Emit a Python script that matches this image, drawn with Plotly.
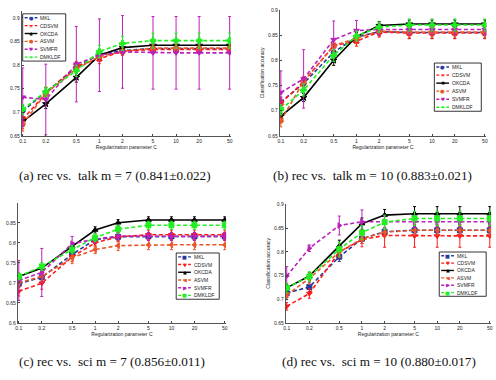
import plotly.graph_objects as go
import numpy as np

W, H = 496, 380

C_vals = [0.1, 0.2, 0.5, 1, 2, 5, 10, 20, 50]
C_labels = ['0.1', '0.2', '0.5', '1', '2', '5', '10', '20', '50']
methods = ['MKL', 'CDSVM', 'OKCDA', 'ASVM', 'SVMFR', 'DMKLDF']

# (a) rec vs. talk m = 7
a_MKL = [0.703, 0.742, 0.795, 0.823, 0.831, 0.835, 0.835, 0.835, 0.835]
a_CDSVM = [0.685, 0.740, 0.798, 0.813, 0.829, 0.833, 0.833, 0.833, 0.833]
a_OKCDA = [0.680, 0.718, 0.774, 0.821, 0.837, 0.842, 0.842, 0.842, 0.842]
a_ASVM = [0.675, 0.740, 0.792, 0.818, 0.829, 0.836, 0.836, 0.836, 0.836]
a_SVMFR = [0.732, 0.727, 0.802, 0.821, 0.828, 0.826, 0.826, 0.826, 0.826]
a_DMKLDF = [0.706, 0.744, 0.788, 0.829, 0.846, 0.852, 0.852, 0.852, 0.852]
a_MKL_err = [0.012, 0.010, 0.010, 0.010, 0.008, 0.008, 0.008, 0.008, 0.008]
a_CDSVM_err = [0.020, 0.012, 0.010, 0.010, 0.008, 0.008, 0.008, 0.008, 0.008]
a_OKCDA_err = [0.010, 0.010, 0.010, 0.008, 0.006, 0.006, 0.006, 0.006, 0.006]
a_ASVM_err = [0.015, 0.012, 0.010, 0.010, 0.008, 0.008, 0.008, 0.008, 0.008]
a_SVMFR_err = [0.062, 0.075, 0.080, 0.077, 0.077, 0.077, 0.077, 0.077, 0.077]
a_DMKLDF_err = [0.010, 0.010, 0.012, 0.013, 0.015, 0.016, 0.016, 0.016, 0.016]

# (b) rec vs. talk m = 10
b_MKL = [0.717, 0.754, 0.816, 0.846, 0.857, 0.855, 0.855, 0.855, 0.855]
b_CDSVM = [0.715, 0.757, 0.829, 0.838, 0.856, 0.854, 0.854, 0.854, 0.854]
b_OKCDA = [0.689, 0.726, 0.800, 0.847, 0.869, 0.872, 0.872, 0.872, 0.872]
b_ASVM = [0.680, 0.758, 0.829, 0.843, 0.858, 0.856, 0.856, 0.856, 0.856]
b_SVMFR = [0.736, 0.763, 0.841, 0.859, 0.861, 0.861, 0.861, 0.861, 0.861]
b_DMKLDF = [0.702, 0.741, 0.810, 0.848, 0.866, 0.870, 0.870, 0.870, 0.870]
b_MKL_err = [0.010, 0.010, 0.010, 0.008, 0.008, 0.012, 0.012, 0.012, 0.012]
b_CDSVM_err = [0.010, 0.010, 0.010, 0.010, 0.010, 0.011, 0.011, 0.011, 0.011]
b_OKCDA_err = [0.008, 0.008, 0.010, 0.008, 0.008, 0.008, 0.008, 0.008, 0.008]
b_ASVM_err = [0.012, 0.010, 0.012, 0.010, 0.010, 0.010, 0.010, 0.010, 0.010]
b_SVMFR_err = [0.043, 0.058, 0.037, 0.020, 0.012, 0.010, 0.010, 0.010, 0.010]
b_DMKLDF_err = [0.010, 0.012, 0.012, 0.010, 0.010, 0.012, 0.012, 0.012, 0.012]

# (c) rec vs. sci m = 7
c_MKL = [0.698, 0.714, 0.771, 0.808, 0.815, 0.816, 0.816, 0.816, 0.816]
c_CDSVM = [0.679, 0.699, 0.765, 0.800, 0.815, 0.820, 0.820, 0.820, 0.820]
c_OKCDA = [0.716, 0.737, 0.791, 0.832, 0.850, 0.857, 0.857, 0.857, 0.857]
c_ASVM = [0.700, 0.716, 0.763, 0.783, 0.793, 0.795, 0.795, 0.795, 0.795]
c_SVMFR = [0.706, 0.726, 0.798, 0.809, 0.817, 0.816, 0.816, 0.816, 0.816]
c_DMKLDF = [0.716, 0.741, 0.783, 0.813, 0.834, 0.844, 0.844, 0.844, 0.844]
c_MKL_err = [0.010, 0.010, 0.010, 0.010, 0.010, 0.010, 0.010, 0.010, 0.010]
c_CDSVM_err = [0.012, 0.015, 0.012, 0.010, 0.012, 0.012, 0.012, 0.012, 0.012]
c_OKCDA_err = [0.008, 0.008, 0.008, 0.008, 0.008, 0.008, 0.008, 0.008, 0.008]
c_ASVM_err = [0.010, 0.012, 0.015, 0.010, 0.012, 0.012, 0.012, 0.012, 0.012]
c_SVMFR_err = [0.050, 0.060, 0.018, 0.010, 0.010, 0.010, 0.010, 0.010, 0.010]
c_DMKLDF_err = [0.008, 0.010, 0.010, 0.010, 0.010, 0.010, 0.010, 0.010, 0.010]

# (d) rec vs. sci m = 10
d_MKL = [0.713, 0.726, 0.790, 0.828, 0.843, 0.846, 0.846, 0.846, 0.846]
d_CDSVM = [0.685, 0.712, 0.800, 0.826, 0.835, 0.834, 0.834, 0.834, 0.834]
d_OKCDA = [0.724, 0.749, 0.813, 0.860, 0.878, 0.881, 0.881, 0.881, 0.881]
d_ASVM = [0.709, 0.744, 0.800, 0.828, 0.842, 0.846, 0.846, 0.846, 0.846]
d_SVMFR = [0.749, 0.808, 0.856, 0.864, 0.864, 0.864, 0.864, 0.864, 0.864]
d_DMKLDF = [0.724, 0.748, 0.806, 0.841, 0.863, 0.871, 0.871, 0.871, 0.871]
d_MKL_err = [0.010, 0.010, 0.010, 0.010, 0.008, 0.008, 0.008, 0.008, 0.008]
d_CDSVM_err = [0.008, 0.010, 0.012, 0.015, 0.025, 0.024, 0.024, 0.024, 0.024]
d_OKCDA_err = [0.008, 0.008, 0.012, 0.012, 0.012, 0.015, 0.015, 0.015, 0.015]
d_ASVM_err = [0.010, 0.012, 0.012, 0.010, 0.010, 0.010, 0.010, 0.010, 0.010]
d_SVMFR_err = [0.020, 0.007, 0.020, 0.025, 0.012, 0.012, 0.012, 0.012, 0.012]
d_DMKLDF_err = [0.010, 0.010, 0.015, 0.015, 0.015, 0.015, 0.015, 0.015, 0.015]

captions = ['(a) rec vs.  talk m = 7 (0.841±0.022)',
            '(b) rec vs.  talk m = 10 (0.883±0.021)',
            '(c) rec vs.  sci m = 7 (0.856±0.011)',
            '(d) rec vs.  sci m = 10 (0.880±0.017)']

colors = {'MKL': '#27399c', 'CDSVM': '#ff1a1a', 'OKCDA': '#000000',
          'ASVM': '#e8582a', 'SVMFR': '#bb22bb', 'DMKLDF': '#22ee22'}
dashes = {'MKL': '4px,2.5px', 'CDSVM': '4px,2.5px', 'OKCDA': 'solid',
          'ASVM': '4px,2.5px', 'SVMFR': '4px,2.5px', 'DMKLDF': '4px,2.5px'}
sym_top = {'MKL': 'circle', 'CDSVM': 'x', 'OKCDA': 'star', 'ASVM': 'circle',
           'SVMFR': 'triangle-down', 'DMKLDF': 'cross'}
sym_bot = {'MKL': 'square', 'CDSVM': 'triangle-down', 'OKCDA': 'triangle-up',
           'ASVM': 'triangle-left', 'SVMFR': 'triangle-right', 'DMKLDF': 'square'}
glyph_top = {'MKL': '●', 'CDSVM': '×', 'OKCDA': '✱', 'ASVM': '●',
             'SVMFR': '▼', 'DMKLDF': '+'}
glyph_bot = {'MKL': '■', 'CDSVM': '▼', 'OKCDA': '▲', 'ASVM': '◀',
             'SVMFR': '▶', 'DMKLDF': '■'}

panels = [
    dict(vals=[a_MKL, a_CDSVM, a_OKCDA, a_ASVM, a_SVMFR, a_DMKLDF],
         errs=[a_MKL_err, a_CDSVM_err, a_OKCDA_err, a_ASVM_err, a_SVMFR_err, a_DMKLDF_err],
         box=(13, 227, 8, 135), yr=(0.65, 0.915), ticks=[0.65, 0.7, 0.75, 0.8, 0.85, 0.9],
         syms=sym_top, glyphs=glyph_top, leg=(14, 58, 11, 59), ytitle=False,
         cap=(8, 175)),
    dict(vals=[b_MKL, b_CDSVM, b_OKCDA, b_ASVM, b_SVMFR, b_DMKLDF],
         errs=[b_MKL_err, b_CDSVM_err, b_OKCDA_err, b_ASVM_err, b_SVMFR_err, b_DMKLDF_err],
         box=(277, 488, 7, 135), yr=(0.65, 0.9), ticks=[0.65, 0.7, 0.75, 0.8, 0.85, 0.9],
         syms=sym_top, glyphs=glyph_top, leg=(435, 483, 61, 110), ytitle=True,
         cap=(268, 175)),
    dict(vals=[c_MKL, c_CDSVM, c_OKCDA, c_ASVM, c_SVMFR, c_DMKLDF],
         errs=[c_MKL_err, c_CDSVM_err, c_OKCDA_err, c_ASVM_err, c_SVMFR_err, c_DMKLDF_err],
         box=(9, 222, 203, 325), yr=(0.6, 0.9), ticks=[0.6, 0.65, 0.7, 0.75, 0.8, 0.85],
         syms=sym_bot, glyphs=glyph_bot, leg=(171, 215, 254, 301), ytitle=False,
         cap=(8, 364)),
    dict(vals=[d_MKL, d_CDSVM, d_OKCDA, d_ASVM, d_SVMFR, d_DMKLDF],
         errs=[d_MKL_err, d_CDSVM_err, d_OKCDA_err, d_ASVM_err, d_SVMFR_err, d_DMKLDF_err],
         box=(283, 493, 204, 325), yr=(0.65, 0.902), ticks=[0.65, 0.7, 0.75, 0.8, 0.85, 0.9],
         syms=sym_bot, glyphs=glyph_bot, leg=(440, 488, 253, 298), ytitle=True,
         cap=(277, 364)),
]

def px(x):
    return x / W

def py(y):
    return 1 - y / H

fig = go.Figure()
shapes, annotations = [], []
tickfont = dict(family='Liberation Sans, Arial', size=5, color='#222')
layout_axes = {}

for i, p in enumerate(panels):
    n = '' if i == 0 else str(i + 1)
    xa, ya = 'x' + n, 'y' + n
    for m, v, e in zip(methods, p['vals'], p['errs']):
        col = colors[m]
        fig.add_trace(go.Scatter(
            x=C_vals, y=v, xaxis=xa, yaxis=ya, mode='lines+markers', name=m,
            showlegend=False,
            line=dict(color=col, width=1.6, dash=dashes[m]),
            marker=dict(symbol=p['syms'][m], size=5, color=col,
                        line=dict(color=col, width=1)),
            error_y=dict(type='data', array=e, visible=True, color=col,
                         thickness=1, width=1.5)))
    x0, x1, y0, y1 = p['box']
    layout_axes['xaxis' + n] = dict(
        domain=[px(x0), px(x1)], anchor=ya, type='log',
        range=[np.log10(0.097), np.log10(52)],
        tickvals=C_vals, ticktext=C_labels, ticks='inside', ticklen=2,
        tickcolor='#444', showline=True, linecolor='#555', linewidth=1,
        showgrid=False, zeroline=False, tickfont=tickfont,
        title=dict(text='Regularization parameter C', font=tickfont, standoff=2))
    layout_axes['yaxis' + n] = dict(
        domain=[py(y1), py(y0)], anchor=xa, range=list(p['yr']),
        tickvals=p['ticks'], ticktext=[('%g' % t) for t in p['ticks']],
        ticks='inside', ticklen=2, tickcolor='#444', showline=True,
        linecolor='#555', linewidth=1, showgrid=False, zeroline=False,
        tickfont=tickfont,
        title=dict(text='Classification accuracy' if p['ytitle'] else '',
                   font=tickfont, standoff=3))
    # legend box
    lx0, lx1, ly0, ly1 = p['leg']
    shapes.append(dict(type='rect', xref='paper', yref='paper',
                       x0=px(lx0), x1=px(lx1), y0=py(ly1), y1=py(ly0),
                       line=dict(color='#000', width=0.8), fillcolor='white', layer='above'))
    step = (ly1 - ly0) / 6.0
    for k, m in enumerate(methods):
        yy = ly0 + step * (k + 0.5)
        col = colors[m]
        shapes.append(dict(type='line', xref='paper', yref='paper',
                           x0=px(lx0 + 2), x1=px(lx0 + 15), y0=py(yy), y1=py(yy),
                           line=dict(color=col, width=1.4,
                                     dash='solid' if m == 'OKCDA' else '3px,2px'),
                           layer='above'))
        annotations.append(dict(xref='paper', yref='paper', x=px(lx0 + 8.5), y=py(yy),
                                text=p['glyphs'][m], showarrow=False,
                                xanchor='center', yanchor='middle',
                                font=dict(family='DejaVu Sans', size=5, color=col)))
        annotations.append(dict(xref='paper', yref='paper', x=px(lx0 + 16), y=py(yy),
                                text=m, showarrow=False, xanchor='left', yanchor='middle',
                                font=dict(family='Liberation Sans, Arial', size=5, color='#222')))
    cx, cy = p['cap']
    annotations.append(dict(xref='paper', yref='paper', x=px(cx), y=py(cy),
                            text=captions[i], showarrow=False, xanchor='left',
                            yanchor='middle',
                            font=dict(family='Liberation Serif, DejaVu Serif', size=13.2,
                                      color='#111')))

fig.update_layout(width=W, height=H, margin=dict(l=0, r=0, t=0, b=0),
                  paper_bgcolor='white', plot_bgcolor='white',
                  shapes=shapes, annotations=annotations, **layout_axes)

fig.write_html('out.html')
